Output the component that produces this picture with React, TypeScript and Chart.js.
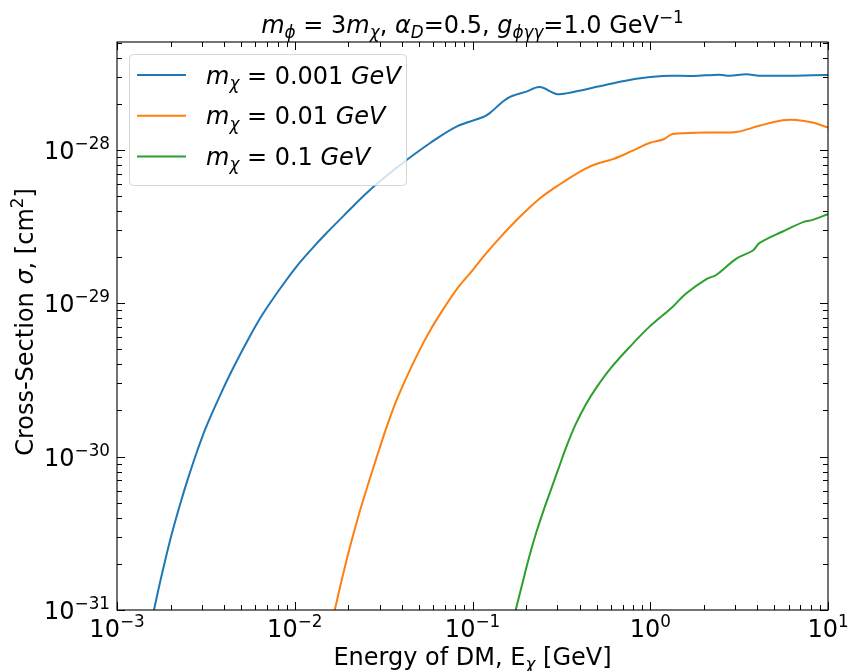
import React, { useEffect, useRef } from "react";
import { Chart, registerables } from "chart.js";

Chart.register(...registerables);

// ---------- data ----------
const energyM001 = [1.614e-3, 1.778e-3, 1.995e-3, 2.239e-3, 2.512e-3, 2.851e-3, 3.162e-3, 3.802e-3, 4.467e-3, 5.623e-3, 6.607e-3, 8.318e-3, 1.023e-2, 1.259e-2, 1.514e-2, 1.995e-2, 2.512e-2, 3.311e-2, 4.266e-2, 5.754e-2, 8.128e-2, 0.115, 0.125, 0.158, 0.201, 0.239, 0.296, 0.337, 0.566, 0.834, 1.18, 1.74, 2.45, 2.79, 3.47, 4.11, 10];
const sigmaM001 = [1.0e-31, 1.660e-31, 2.884e-31, 4.677e-31, 7.244e-31, 1.122e-30, 1.549e-30, 2.512e-30, 3.715e-30, 6.166e-30, 8.511e-30, 1.259e-29, 1.738e-29, 2.291e-29, 2.884e-29, 3.981e-29, 5.188e-29, 6.839e-29, 8.610e-29, 1.107e-28, 1.422e-28, 1.64e-28, 1.74e-28, 2.18e-28, 2.40e-28, 2.57e-28, 2.32e-28, 2.34e-28, 2.66e-28, 2.91e-28, 3.04e-28, 3.04e-28, 3.10e-28, 3.05e-28, 3.12e-28, 3.05e-28, 3.08e-28];

const energyM01 = [1.679e-2, 1.841e-2, 2.042e-2, 2.291e-2, 2.570e-2, 2.897e-2, 3.236e-2, 3.715e-2, 4.266e-2, 5.012e-2, 5.754e-2, 6.918e-2, 8.128e-2, 0.1, 0.1202, 0.1445, 0.1778, 0.2399, 0.309, 0.4266, 0.5012, 0.617, 0.798, 0.991, 1.18, 1.34, 2.07, 3.04, 4.11, 5.56, 6.62, 8.20, 10];
const sigmaM01 = [1.0e-31, 1.585e-31, 2.570e-31, 4.169e-31, 6.457e-31, 1.0e-30, 1.479e-30, 2.291e-30, 3.311e-30, 4.898e-30, 6.607e-30, 9.333e-30, 1.230e-29, 1.641e-29, 2.138e-29, 2.723e-29, 3.508e-29, 4.842e-29, 5.957e-29, 7.499e-29, 8.128e-29, 8.71e-29, 9.91e-29, 1.11e-28, 1.17e-28, 1.27e-28, 1.30e-28, 1.31e-28, 1.44e-28, 1.56e-28, 1.57e-28, 1.51e-28, 1.40e-28];

const energyM1 = [0.175, 0.1905, 0.2089, 0.2291, 0.2512, 0.2754, 0.302, 0.3388, 0.3802, 0.4365, 0.5012, 0.6026, 0.7586, 0.991, 1.34, 1.59, 2.07, 2.35, 3.04, 3.78, 4.11, 5.56, 7.36, 8.20, 10];
const sigmaM1 = [1.0e-31, 1.479e-31, 2.239e-31, 3.236e-31, 4.467e-31, 6.026e-31, 8.128e-31, 1.175e-30, 1.622e-30, 2.213e-30, 2.851e-30, 3.802e-30, 5.129e-30, 7.047e-30, 9.51e-30, 1.16e-29, 1.44e-29, 1.53e-29, 1.95e-29, 2.21e-29, 2.47e-29, 2.94e-29, 3.41e-29, 3.50e-29, 3.82e-29];

const massLabels = ["0.001", "0.01", "0.1"];
const seriesColors = ["#1f77b4", "#ff7f0e", "#2ca02c"];
const xTickExponents = [-3, -2, -1, 0, 1];
const yTickExponents = [-31, -30, -29, -28];
const xMin = 1e-3;
const xMax = 10;
const yMin = 1e-31;
const yMax = 5.06e-28;

// ---------- mathtext-like text helper ----------
const FONT = '"DejaVu Sans"';
type Seg = { t: string; it?: boolean; sub?: boolean; sup?: boolean };

function segFont(base: number, s: Seg) {
  const size = s.sub || s.sup ? base * 0.7 : base;
  return `${s.it ? "italic " : ""}${size}px ${FONT}`;
}
function measureSegs(ctx: CanvasRenderingContext2D, segs: Seg[], base: number) {
  let w = 0;
  for (const s of segs) {
    ctx.font = segFont(base, s);
    w += ctx.measureText(s.t).width;
  }
  return w;
}
function drawSegs(ctx: CanvasRenderingContext2D, segs: Seg[], x: number, y: number, base: number) {
  ctx.textAlign = "left";
  ctx.textBaseline = "alphabetic";
  for (const s of segs) {
    ctx.font = segFont(base, s);
    const dy = s.sub ? base * 0.22 : s.sup ? -base * 0.42 : 0;
    ctx.fillText(s.t, x, y + dy);
    x += ctx.measureText(s.t).width;
  }
}
function powerLabel(e: number): Seg[] {
  return [{ t: "10" }, { t: (e < 0 ? "\u2212" : "") + Math.abs(e), sup: true }];
}

const decorPlugin = {
  id: "decor",
  afterDraw(chart: any) {
    const ctx: CanvasRenderingContext2D = chart.ctx;
    const { left, right, top, bottom } = chart.chartArea;
    const xs = chart.scales.x;
    const ys = chart.scales.y;
    const FS = 24;
    ctx.save();
    ctx.fillStyle = "#000";
    ctx.strokeStyle = "#000";

    // ticks (inward, all four sides)
    const majorLen = 8;
    const minorLen = 5;
    ctx.lineWidth = 1;
    ctx.beginPath();
    for (let e = -3; e <= 1; e++) {
      for (let m = 1; m <= 9; m++) {
        const v = m * Math.pow(10, e);
        if (v < xMin * 0.999 || v > xMax * 1.001) continue;
        const px = Math.round(xs.getPixelForValue(v)) + 0.5;
        const len = m === 1 ? majorLen : minorLen;
        ctx.moveTo(px, bottom);
        ctx.lineTo(px, bottom - len);
        ctx.moveTo(px, top);
        ctx.lineTo(px, top + len);
      }
    }
    for (let e = -31; e <= -28; e++) {
      for (let m = 1; m <= 9; m++) {
        const v = m * Math.pow(10, e);
        if (v < yMin * 0.999 || v > yMax) continue;
        const py = Math.round(ys.getPixelForValue(v)) + 0.5;
        const len = m === 1 ? majorLen : minorLen;
        ctx.moveTo(left, py);
        ctx.lineTo(left + len, py);
        ctx.moveTo(right, py);
        ctx.lineTo(right - len, py);
      }
    }
    ctx.stroke();

    // frame
    ctx.lineWidth = 1.1;
    ctx.strokeRect(left, top, right - left, bottom - top);

    // x tick labels
    for (const e of xTickExponents) {
      const segs = powerLabel(e);
      const px = xs.getPixelForValue(Math.pow(10, e));
      const w = measureSegs(ctx, segs, FS);
      drawSegs(ctx, segs, px - w / 2, bottom + 27, FS);
    }
    // y tick labels
    for (const e of yTickExponents) {
      const segs = powerLabel(e);
      const py = ys.getPixelForValue(Math.pow(10, e));
      const w = measureSegs(ctx, segs, FS);
      drawSegs(ctx, segs, left - 7 - w, py + 9, FS);
    }

    // title
    const title: Seg[] = [
      { t: "m", it: true }, { t: "\u03d5", it: true, sub: true }, { t: " = 3" },
      { t: "m", it: true }, { t: "\u03c7", it: true, sub: true }, { t: ", " },
      { t: "\u03b1", it: true }, { t: "D", it: true, sub: true }, { t: "=0.5, " },
      { t: "g", it: true }, { t: "\u03d5\u03b3\u03b3", it: true, sub: true }, { t: "=1.0 GeV" },
      { t: "\u22121", sup: true },
    ];
    const cx = (left + right) / 2;
    const tw = measureSegs(ctx, title, FS);
    drawSegs(ctx, title, cx - tw / 2, 33, FS);

    // x label
    const xl: Seg[] = [{ t: "Energy of DM, E" }, { t: "\u03c7", it: true, sub: true }, { t: " [GeV]" }];
    const xw = measureSegs(ctx, xl, FS);
    drawSegs(ctx, xl, cx - xw / 2, 665, FS);

    // y label
    const yl: Seg[] = [{ t: "Cross-Section " }, { t: "\u03c3", it: true }, { t: ", [cm" }, { t: "2", sup: true }, { t: "]" }];
    const yw = measureSegs(ctx, yl, FS);
    ctx.save();
    ctx.translate(33, (top + bottom) / 2 - 4);
    ctx.rotate(-Math.PI / 2);
    drawSegs(ctx, yl, -yw / 2, 0, FS);
    ctx.restore();

    // legend
    const bx = 129.5, by = 54.5, bw = 277, bh = 131, r = 4;
    ctx.beginPath();
    ctx.moveTo(bx + r, by);
    ctx.lineTo(bx + bw - r, by);
    ctx.arcTo(bx + bw, by, bx + bw, by + r, r);
    ctx.lineTo(bx + bw, by + bh - r);
    ctx.arcTo(bx + bw, by + bh, bx + bw - r, by + bh, r);
    ctx.lineTo(bx + r, by + bh);
    ctx.arcTo(bx, by + bh, bx, by + bh - r, r);
    ctx.lineTo(bx, by + r);
    ctx.arcTo(bx, by, bx + r, by, r);
    ctx.closePath();
    ctx.fillStyle = "rgba(255,255,255,0.8)";
    ctx.fill();
    ctx.strokeStyle = "rgba(204,204,204,0.8)";
    ctx.lineWidth = 1;
    ctx.stroke();

    massLabels.forEach((lab, i) => {
      const ly = 75 + i * 40.8;
      ctx.strokeStyle = seriesColors[i];
      ctx.lineWidth = 2;
      ctx.beginPath();
      ctx.moveTo(137, ly);
      ctx.lineTo(186, ly);
      ctx.stroke();
      ctx.fillStyle = "#000";
      const segs: Seg[] = [
        { t: "m", it: true }, { t: "\u03c7", it: true, sub: true },
        { t: " = " + lab + " " }, { t: "GeV", it: true },
      ];
      drawSegs(ctx, segs, 206, ly + 8.5, FS);
    });

    ctx.restore();
  },
};

export default function App() {
  const ref = useRef<HTMLCanvasElement | null>(null);
  useEffect(() => {
    if (!ref.current) return;
    const mk = (xsArr: number[], ysArr: number[]) => xsArr.map((x, i) => ({ x, y: ysArr[i] }));
    const series = [mk(energyM001, sigmaM001), mk(energyM01, sigmaM01), mk(energyM1, sigmaM1)];
    const chart = new Chart(ref.current, {
      type: "scatter",
      data: {
        datasets: series.map((d, i) => ({
          label: "m = " + massLabels[i] + " GeV",
          data: d,
          showLine: true,
          borderColor: seriesColors[i],
          backgroundColor: seriesColors[i],
          borderWidth: 2,
          pointRadius: 0,
          tension: 0.35,
          clip: 0,
        })),
      },
      options: {
        animation: false,
        responsive: false,
        devicePixelRatio: 1,
        layout: { padding: { left: 117, right: 22, top: 42, bottom: 61 } },
        scales: {
          x: { type: "logarithmic", min: xMin, max: xMax, display: false },
          y: { type: "logarithmic", min: yMin, max: yMax, display: false },
        },
        plugins: {
          legend: { display: false },
          tooltip: { enabled: false },
          title: { display: false },
        },
        events: [],
      },
      plugins: [decorPlugin],
    } as any);
    return () => chart.destroy();
  }, []);
  return (
    <div style={{ position: "fixed", left: 0, top: 0, width: 850, height: 671, background: "#fff" }}>
      <canvas ref={ref} width={850} height={671} style={{ width: 850, height: 671 }} />
    </div>
  );
}
